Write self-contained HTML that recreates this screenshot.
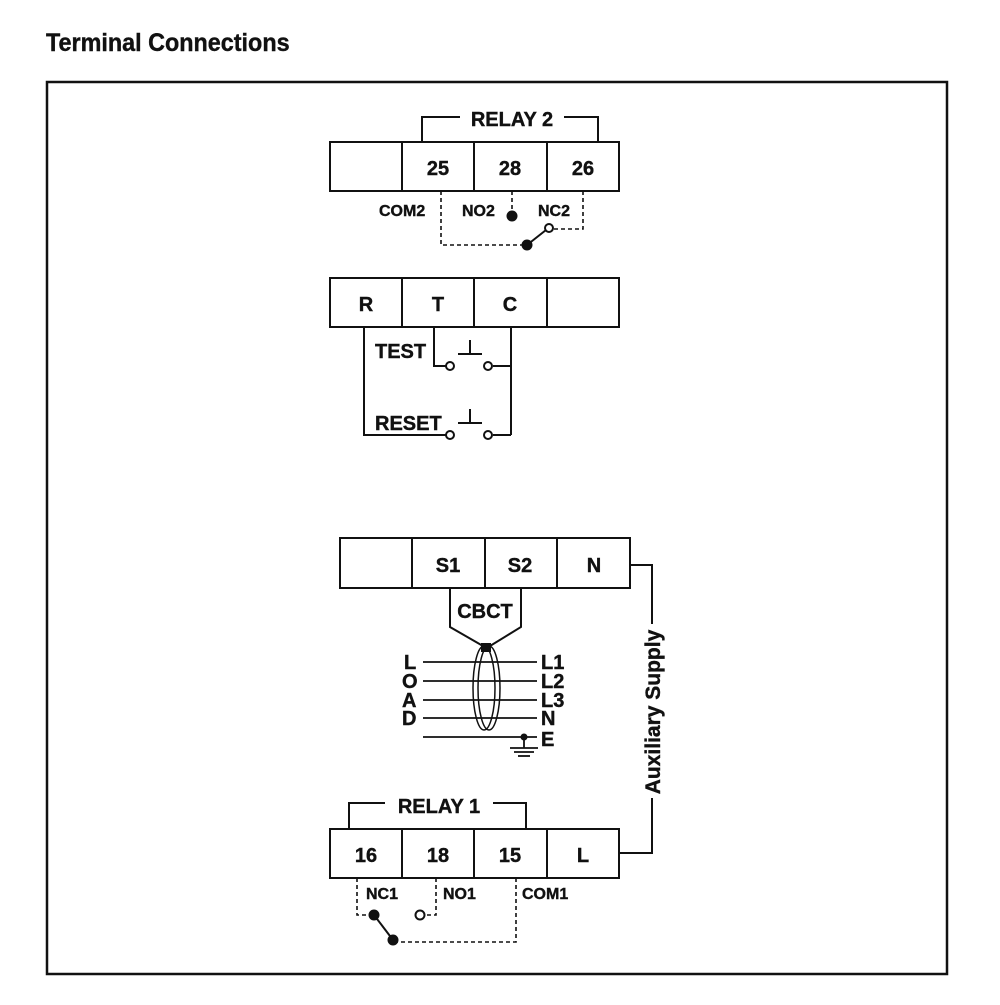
<!DOCTYPE html>
<html><head><style>
body{margin:0;background:#fff;width:1000px;height:1000px;overflow:hidden}
svg text{font-family:"Liberation Sans",sans-serif;font-weight:bold;fill:#111;stroke:#111;stroke-width:0.4}
</style></head><body>
<svg width="1000" height="1000" viewBox="0 0 1000 1000">
<text x="46" y="51" font-size="25" transform="translate(46,0) scale(0.935,1) translate(-46,0)">Terminal Connections</text>
<rect x="47" y="82" width="900" height="892" fill="none" stroke="#111" stroke-width="2.5"/>
<g stroke="#111" stroke-width="2" fill="none">
<rect x="330" y="142" width="289" height="49"/>
<line x1="402" y1="142" x2="402" y2="191"/><line x1="474" y1="142" x2="474" y2="191"/><line x1="547" y1="142" x2="547" y2="191"/>
<polyline points="422,142 422,117 460,117"/><polyline points="564,117 598,117 598,142"/>
<rect x="330" y="278" width="289" height="49"/>
<line x1="402" y1="278" x2="402" y2="327"/><line x1="474" y1="278" x2="474" y2="327"/><line x1="547" y1="278" x2="547" y2="327"/>
<polyline points="364,327 364,435 446,435"/>
<polyline points="434,327 434,366 446,366"/>
<polyline points="493,366 511,366"/><polyline points="493,435 511,435"/>
<line x1="511" y1="327" x2="511" y2="435"/>
<line x1="458" y1="354" x2="482" y2="354"/><line x1="470" y1="340" x2="470" y2="354"/>
<line x1="458" y1="423" x2="482" y2="423"/><line x1="470" y1="409" x2="470" y2="423"/>
<circle cx="450" cy="366" r="4"/><circle cx="488" cy="366" r="4"/>
<circle cx="450" cy="435" r="4"/><circle cx="488" cy="435" r="4"/>
<rect x="340" y="538" width="290" height="50"/>
<line x1="412" y1="538" x2="412" y2="588"/><line x1="485" y1="538" x2="485" y2="588"/><line x1="557" y1="538" x2="557" y2="588"/>
<polyline points="450,588 450,627 483,646"/><polyline points="521,588 521,627 490,646"/>
<polyline points="630,565 652,565 652,624"/><polyline points="652,798 652,853 619,853"/>
<rect x="330" y="829" width="289" height="49"/>
<line x1="402" y1="829" x2="402" y2="878"/><line x1="474" y1="829" x2="474" y2="878"/><line x1="547" y1="829" x2="547" y2="878"/>
<polyline points="349,829 349,803 385,803"/><polyline points="493,803 526,803 526,829"/>
</g>
<g stroke="#111" stroke-width="1.8" fill="none">
<line x1="423" y1="662" x2="537" y2="662"/><line x1="423" y1="681" x2="537" y2="681"/>
<line x1="423" y1="700" x2="537" y2="700"/><line x1="423" y1="718" x2="537" y2="718"/>
<line x1="423" y1="737" x2="537" y2="737"/>
<ellipse cx="484" cy="688" rx="11" ry="42" stroke-width="1.5"/>
<ellipse cx="489" cy="688" rx="11" ry="42" stroke-width="1.5"/>
<line x1="524" y1="737" x2="524" y2="748"/>
<line x1="510" y1="748" x2="538" y2="748"/><line x1="514" y1="752" x2="534" y2="752"/><line x1="518" y1="756" x2="530" y2="756"/>
</g>
<rect x="481" y="643" width="10" height="9" fill="#111"/>
<circle cx="524" cy="737" r="3.5" fill="#111"/>
<g stroke="#111" stroke-width="1.6" fill="none" stroke-dasharray="4,3">
<polyline points="441,191 441,245 525,245"/>
<line x1="512" y1="191" x2="512" y2="211"/>
<polyline points="583,191 583,229 553,229"/>
<polyline points="357,878 357,915 372,915"/>
<polyline points="436,878 436,915 425,915"/>
<polyline points="516,878 516,942 396,942"/>
</g>
<g stroke="#111" stroke-width="2" fill="#fff">
<line x1="527" y1="245" x2="546" y2="230"/>
<circle cx="512" cy="216" r="4.5" fill="#111"/>
<circle cx="527" cy="245" r="4.5" fill="#111"/>
<circle cx="549" cy="228" r="4"/>
<line x1="374" y1="915" x2="393" y2="940"/>
<circle cx="374" cy="915" r="4.5" fill="#111"/>
<circle cx="393" cy="940" r="4.5" fill="#111"/>
<circle cx="420" cy="915" r="4.5"/>
</g>
<g font-size="20" text-anchor="middle">
<rect x="462" y="106" width="100" height="22" fill="#fff" stroke="none"/>
<text x="512" y="126">RELAY 2</text>
<text x="438" y="175">25</text><text x="510" y="175">28</text><text x="583" y="175">26</text>
<text x="366" y="311">R</text><text x="438" y="311">T</text><text x="510" y="311">C</text>
<text x="448" y="572">S1</text><text x="520" y="572">S2</text><text x="594" y="572">N</text>
<text x="485" y="618">CBCT</text>
<rect x="387" y="793" width="104" height="22" fill="#fff" stroke="none"/>
<text x="439" y="813">RELAY 1</text>
<text x="366" y="862">16</text><text x="438" y="862">18</text><text x="510" y="862">15</text><text x="583" y="862">L</text>
</g>
<g font-size="16">
<text x="379" y="216">COM2</text><text x="462" y="216">NO2</text><text x="538" y="216">NC2</text>
<text x="366" y="899">NC1</text><text x="443" y="899">NO1</text><text x="522" y="899">COM1</text>
</g>
<g font-size="20">
<text x="375" y="358">TEST</text><text x="375" y="430">RESET</text>
<text x="404" y="669">L</text><text x="402" y="688">O</text><text x="402" y="707">A</text><text x="402" y="725">D</text>
<text x="541" y="669">L1</text><text x="541" y="688">L2</text><text x="541" y="707">L3</text><text x="541" y="725">N</text><text x="541" y="746">E</text>
<text transform="translate(660,712) rotate(-90)" text-anchor="middle" font-size="21">Auxiliary Supply</text>
</g>
</svg>
</body></html>
